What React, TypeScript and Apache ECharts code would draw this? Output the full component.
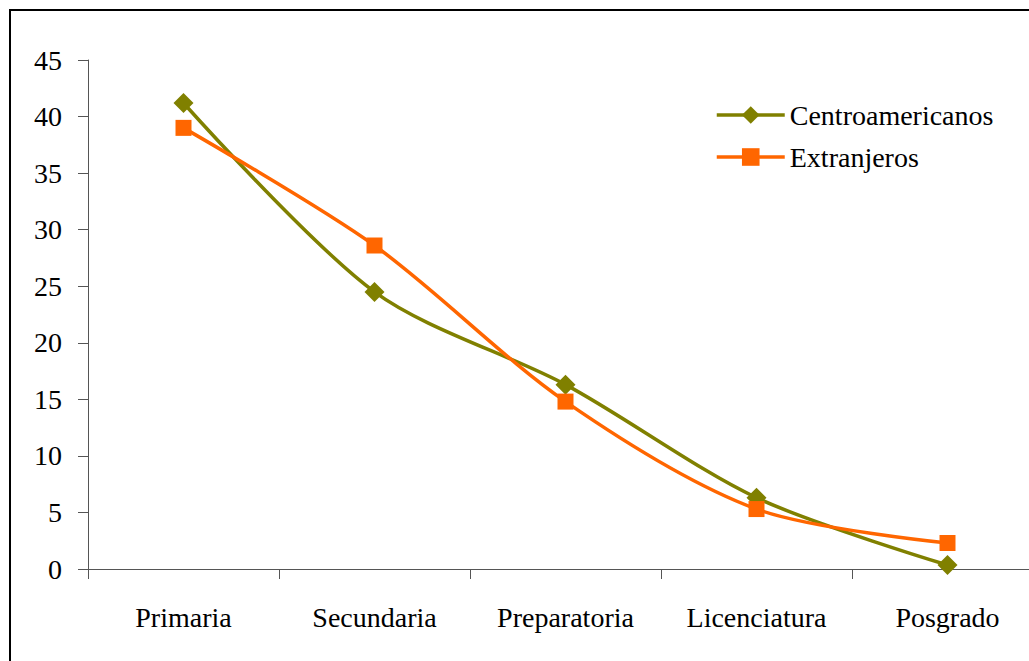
import React, { useEffect, useRef } from "react";
import * as echarts from "echarts";

const categories = ["Primaria", "Secundaria", "Preparatoria", "Licenciatura", "Posgrado"];
const centroamericanos = [41.2, 24.5, 16.3, 6.3, 0.35];
const extranjeros = [39.0, 28.6, 14.8, 5.3, 2.3];
const yTicks = { min: 0, max: 45, interval: 5 };

const FONT = "'Liberation Serif', 'Times New Roman', serif";

export default function App() {
  const ref = useRef<HTMLDivElement>(null);
  useEffect(() => {
    document.body.style.margin = "0";
    const chart = echarts.init(ref.current!, null, { renderer: "svg" });
    chart.setOption({
      animation: false,
      backgroundColor: "#ffffff",
      graphic: [
        {
          type: "rect",
          shape: { x: 10, y: 10, width: 1060, height: 680 },
          style: { fill: "none", stroke: "#000", lineWidth: 2 },
          silent: true,
        },
      ],
      grid: { left: 88, top: 60, bottom: 92, right: 17, containLabel: false },
      legend: {
        left: 710,
        top: 96,
        orient: "vertical",
        itemWidth: 68,
        itemHeight: 22,
        itemGap: 14,
        lineStyle: { width: 3.5 },
        textStyle: { fontFamily: FONT, fontSize: 28, color: "#000" },
        data: ["Centroamericanos", "Extranjeros"],
      },
      xAxis: {
        type: "category",
        data: categories,
        boundaryGap: true,
        axisLine: { lineStyle: { color: "#555", width: 1 } },
        axisTick: { show: true, length: 10, inside: false, lineStyle: { color: "#555" } },
        axisLabel: { fontFamily: FONT, fontSize: 28, color: "#000", margin: 34 },
        splitLine: { show: false },
      },
      yAxis: {
        type: "value",
        min: yTicks.min,
        max: yTicks.max,
        interval: yTicks.interval,
        axisLine: { show: true, lineStyle: { color: "#555", width: 1 } },
        axisTick: { show: true, length: 10, lineStyle: { color: "#555" } },
        axisLabel: { fontFamily: FONT, fontSize: 28, color: "#000", margin: 26 },
        splitLine: { show: false },
      },
      series: [
        {
          name: "Centroamericanos",
          type: "line",
          data: centroamericanos,
          smooth: 0.3,
          symbol: "diamond",
          symbolSize: 20,
          itemStyle: { color: "#808000" },
          lineStyle: { color: "#808000", width: 3.5 },
        },
        {
          name: "Extranjeros",
          type: "line",
          data: extranjeros,
          smooth: 0.3,
          symbol: "rect",
          symbolSize: 16,
          itemStyle: { color: "#FF6600" },
          lineStyle: { color: "#FF6600", width: 3.5 },
        },
      ],
    });
    return () => chart.dispose();
  }, []);
  return (
    <div style={{ width: 1029, height: 661, overflow: "hidden", position: "relative" }}>
      <div ref={ref} style={{ width: 1060, height: 661 }} />
    </div>
  );
}
